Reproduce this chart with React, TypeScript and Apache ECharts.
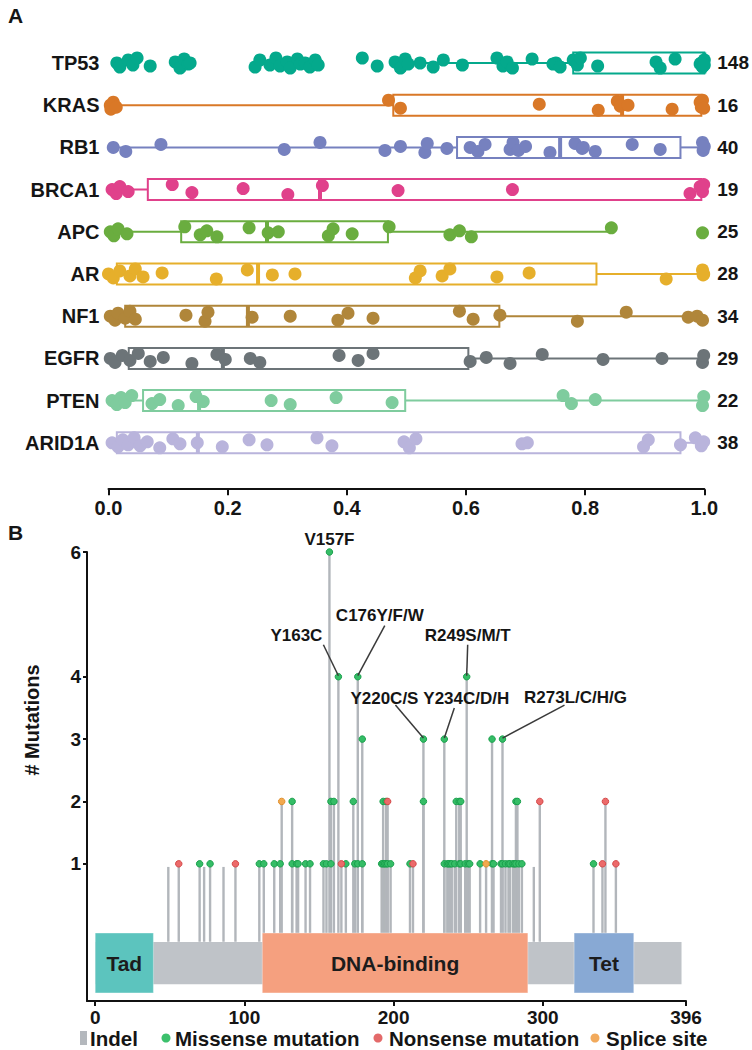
import React, { useEffect, useRef } from 'react';
import * as echarts from 'echarts';

const FONT = '"Liberation Sans", Arial, Helvetica, sans-serif';

// ---------- Panel A data ----------
const genes = ['TP53', 'KRAS', 'RB1', 'BRCA1', 'APC', 'AR', 'NF1', 'EGFR', 'PTEN', 'ARID1A'];
const geneCounts = [148, 16, 40, 19, 25, 28, 34, 29, 22, 38];
const geneColors = ['#04a98c', '#d97827', '#7681bf', '#e0418b', '#6aad3f', '#e6af2b', '#b0863a', '#6c7478', '#7fcc9e', '#b9b4dc'];
const xTicksA = [0, 0.2, 0.4, 0.6, 0.8, 1.0];

// [whisker low, q1, median, q3, whisker high]
const tp53Box = [0.49, 0.78, 1.0, 1.0, 1.0];
const krasBox = [0.0, 0.478, 0.862, 0.995, 0.995];
const rb1Box = [0.0, 0.585, 0.758, 0.96, 1.0];
const brca1Box = [0.0, 0.066, 0.355, 0.995, 0.995];
const apcBox = [0.0, 0.122, 0.266, 0.469, 0.844];
const arBox = [0.014, 0.014, 0.251, 0.819, 1.0];
const nf1Box = [0.0, 0.028, 0.234, 0.656, 1.0];
const egfrBox = [0.0, 0.034, 0.192, 0.604, 1.0];
const ptenBox = [0.0, 0.058, 0.152, 0.498, 1.0];
const arid1aBox = [0.0, 0.014, 0.15, 0.96, 1.0];
const boxStats = [tp53Box, krasBox, rb1Box, brca1Box, apcBox, arBox, nf1Box, egfrBox, ptenBox, arid1aBox];

const tp53Dots = [0.014, 0.019, 0.033, 0.041, 0.048, 0.070, 0.112, 0.120, 0.127, 0.134, 0.137, 0.246, 0.254, 0.271, 0.281, 0.288, 0.300, 0.305, 0.317, 0.322, 0.330, 0.338, 0.347, 0.352, 0.426, 0.451, 0.481, 0.490, 0.498, 0.503, 0.523, 0.545, 0.562, 0.594, 0.652, 0.662, 0.669, 0.678, 0.711, 0.746, 0.751, 0.758, 0.780, 0.787, 0.792, 0.821, 0.919, 0.926, 0.951, 0.993, 0.995, 0.997, 1.0, 1.0];
const krasDots = [0.003, 0.004, 0.008, 0.013, 0.470, 0.490, 0.723, 0.822, 0.854, 0.859, 0.872, 0.946, 0.993, 0.995, 0.997, 0.999];
const rb1Dots = [0.008, 0.029, 0.088, 0.295, 0.355, 0.464, 0.490, 0.531, 0.535, 0.568, 0.607, 0.620, 0.632, 0.674, 0.679, 0.688, 0.700, 0.741, 0.783, 0.795, 0.797, 0.817, 0.879, 0.926, 0.997, 0.998, 1.0];
const brca1Dots = [0.006, 0.013, 0.019, 0.033, 0.107, 0.140, 0.226, 0.301, 0.359, 0.486, 0.678, 0.976, 0.993, 0.997, 0.999];
const apcDots = [0.003, 0.009, 0.016, 0.031, 0.128, 0.154, 0.165, 0.182, 0.236, 0.268, 0.285, 0.369, 0.377, 0.409, 0.471, 0.573, 0.589, 0.609, 0.844, 0.997];
const arDots = [0.0, 0.008, 0.019, 0.036, 0.045, 0.058, 0.090, 0.181, 0.233, 0.275, 0.313, 0.515, 0.523, 0.560, 0.573, 0.652, 0.706, 0.936, 0.997, 0.998, 0.999];
const nf1Dots = [0.003, 0.011, 0.016, 0.028, 0.036, 0.045, 0.130, 0.162, 0.167, 0.241, 0.305, 0.385, 0.402, 0.444, 0.589, 0.612, 0.657, 0.787, 0.869, 0.973, 0.988, 0.997];
const egfrDots = [0.003, 0.011, 0.023, 0.036, 0.050, 0.070, 0.092, 0.140, 0.182, 0.196, 0.238, 0.254, 0.387, 0.419, 0.444, 0.607, 0.634, 0.674, 0.728, 0.830, 0.929, 0.997, 0.999];
const ptenDots = [0.006, 0.014, 0.021, 0.028, 0.039, 0.073, 0.086, 0.117, 0.147, 0.159, 0.273, 0.305, 0.382, 0.476, 0.763, 0.777, 0.817, 0.997, 0.999];
const arid1aDots = [0.006, 0.016, 0.024, 0.033, 0.043, 0.053, 0.065, 0.086, 0.108, 0.120, 0.149, 0.191, 0.236, 0.266, 0.350, 0.375, 0.496, 0.505, 0.516, 0.694, 0.703, 0.898, 0.906, 0.960, 0.985, 0.995, 0.999];
const geneDots = [tp53Dots, krasDots, rb1Dots, brca1Dots, apcDots, arDots, nf1Dots, egfrDots, ptenDots, arid1aDots];

// ---------- Panel B data ----------
const xTicksB = [0, 100, 200, 300, 396];
const yTicksB = [1, 2, 3, 4, 6];
const proteinLength = 393;
const domainNames = ['Tad', 'DNA-binding', 'Tet'];
const domainStart = [0, 112, 321];
const domainEnd = [39, 290, 361];
const domainColors = ['#5cc4be', '#f5a07f', '#88a9d4'];

const indelPositions = [49, 73, 86, 294];
const missense = [
  [70, 1], [77, 1], [110, 1], [113, 1], [120, 1], [124, 1], [132, 1], [132, 2], [135, 1], [136, 1],
  [141, 1], [144, 1], [153, 1], [155, 1], [157, 6], [158, 1], [158, 2], [160, 2], [163, 4], [168, 1],
  [173, 2], [174, 1], [176, 1], [176, 4], [179, 1], [179, 3], [192, 1], [193, 1], [193, 2], [194, 1],
  [195, 1], [195, 2], [196, 1], [198, 1], [211, 1], [220, 2], [220, 3], [234, 1], [234, 3], [236, 1],
  [237, 1], [238, 1], [239, 1], [241, 1], [242, 2], [244, 1], [244, 2], [245, 1], [245, 2], [248, 1],
  [249, 4], [250, 1], [251, 1], [258, 1], [266, 1], [266, 3], [267, 1], [272, 1], [273, 1], [273, 3],
  [275, 1], [277, 1], [278, 1], [280, 1], [281, 1], [282, 1], [282, 2], [283, 2], [284, 1], [286, 1],
  [334, 1],
];
const nonsense = [[56, 1], [94, 1], [165, 1], [196, 2], [213, 1], [298, 2], [340, 1], [342, 2], [349, 1]];
const splice = [[125, 2], [262, 1]];

const hotspotLabels = ['V157F', 'Y163C', 'C176Y/F/W', 'R249S/M/T', 'Y220C/S', 'Y234C/D/H', 'R273L/C/H/G'];
const hotspotPos = [157, 163, 176, 249, 220, 234, 273];
const hotspotCount = [6, 4, 4, 4, 3, 3, 3];

// layout of annotation labels (px offsets from the dot): text dx, dy, leader start dx, dy
const hotspotLayout = [
  [0, -13, null, null],
  [-42, -41, -15, -32],
  [22, -61, 27, -51],
  [1, -41, 1, -32],
  [-39, -41, -28, -34],
  [22, -41, 10, -31],
  [73, -42, 62, -34],
];

const jitterPx = [0, 4, -3, 2, -5, 3, -1, 5, -4, 1];
const ROW_PX = 42.2;
const INDEL_HEIGHT = 0.95;
const STEM_BASE = -0.25;

function buildOption(): any {
  const boldText = (size: number) => ({ fontFamily: FONT, fontWeight: 'bold' as const, fontSize: size, color: '#151515' });

  const boxSeries = {
    type: 'custom',
    xAxisIndex: 0,
    yAxisIndex: 0,
    z: 2,
    encode: { x: [1, 2, 3, 4, 5], y: 0 },
    data: boxStats.map((s, i) => [i, ...s]),
    renderItem: (params: any, api: any) => {
      const i = api.value(0);
      const low = api.value(1), q1 = api.value(2), med = api.value(3), q3 = api.value(4), high = api.value(5);
      const c = geneColors[i];
      const y = api.coord([0, i])[1];
      const X = (v: number) => api.coord([v, i])[0];
      const h = 10.5;
      const children: any[] = [];
      if (q1 > low) children.push({ type: 'line', shape: { x1: X(low), y1: y, x2: X(q1), y2: y }, style: { stroke: c, lineWidth: 2 } });
      if (high > q3) children.push({ type: 'line', shape: { x1: X(q3), y1: y, x2: X(high), y2: y }, style: { stroke: c, lineWidth: 2 } });
      children.push({ type: 'rect', shape: { x: X(q1), y: y - h, width: X(q3) - X(q1), height: 2 * h }, style: { stroke: c, fill: 'rgba(0,0,0,0)', lineWidth: 2 } });
      children.push({ type: 'line', shape: { x1: X(med), y1: y - h, x2: X(med), y2: y + h }, style: { stroke: c, lineWidth: 4 } });
      return { type: 'group', children };
    },
  };

  const dotSeries = geneDots.map((dots, i) => ({
    type: 'scatter',
    name: genes[i],
    xAxisIndex: 0,
    yAxisIndex: 0,
    z: 3,
    symbolSize: 13,
    itemStyle: { color: geneColors[i], opacity: 1 },
    data: dots.map((v, j) => [v, i + jitterPx[j % jitterPx.length] / ROW_PX]),
  }));

  const stems = [
    ...indelPositions.map((p) => [p, INDEL_HEIGHT]),
    ...missense, ...nonsense, ...splice,
  ];

  const stemSeries = {
    type: 'custom',
    xAxisIndex: 1,
    yAxisIndex: 2,
    z: 2,
    encode: { x: 0, y: 1 },
    data: stems,
    renderItem: (params: any, api: any) => {
      const p0 = api.coord([api.value(0), STEM_BASE]);
      const p1 = api.coord([api.value(0), api.value(1)]);
      return { type: 'line', shape: { x1: p0[0], y1: p0[1], x2: p1[0], y2: p1[1] }, style: { stroke: '#b2b6bb', lineWidth: 2.4 } };
    },
  };

  const barSeries = {
    type: 'custom',
    xAxisIndex: 1,
    yAxisIndex: 2,
    z: 3,
    encode: { x: [0, 1] },
    data: [[0, proteinLength]],
    renderItem: (params: any, api: any) => {
      const a = api.coord([api.value(0), -0.255]);
      const b = api.coord([api.value(1), -0.93]);
      return { type: 'rect', shape: { x: a[0], y: a[1], width: b[0] - a[0], height: b[1] - a[1] }, style: { fill: '#bfc3c8' } };
    },
  };

  const domainSeries = {
    type: 'custom',
    xAxisIndex: 1,
    yAxisIndex: 2,
    z: 4,
    encode: { x: [0, 1] },
    data: domainNames.map((n, k) => [domainStart[k], domainEnd[k], k]),
    renderItem: (params: any, api: any) => {
      const k = api.value(2);
      const a = api.coord([api.value(0), -0.11]);
      const b = api.coord([api.value(1), -1.07]);
      return {
        type: 'group',
        children: [
          { type: 'rect', shape: { x: a[0], y: a[1], width: b[0] - a[0], height: b[1] - a[1] }, style: { fill: domainColors[k], stroke: 'rgba(255,255,255,0.35)', lineWidth: 1 } },
          { type: 'text', x: (a[0] + b[0]) / 2, y: (a[1] + b[1]) / 2 + 1, style: { text: domainNames[k], fontFamily: FONT, fontWeight: 'bold', fontSize: 21, fill: '#1c1c1c', align: 'center', verticalAlign: 'middle' } },
        ],
      };
    },
  };

  const mkDots = (data: number[][], fill: string, border: string) => ({
    type: 'scatter',
    xAxisIndex: 1,
    yAxisIndex: 2,
    z: 5,
    symbolSize: 6.5,
    itemStyle: { color: fill, borderColor: border, borderWidth: 1, opacity: 1 },
    data,
  });

  const annotationSeries = {
    type: 'custom',
    xAxisIndex: 1,
    yAxisIndex: 2,
    z: 6,
    encode: { x: 0, y: 1 },
    data: hotspotPos.map((p, k) => [p, hotspotCount[k], k]),
    renderItem: (params: any, api: any) => {
      const k = api.value(2);
      const d = api.coord([api.value(0), api.value(1)]);
      const lay = hotspotLayout[k];
      const children: any[] = [
        { type: 'text', x: d[0] + (lay[0] as number), y: d[1] + (lay[1] as number), style: { text: hotspotLabels[k], fontFamily: FONT, fontWeight: 'bold', fontSize: 17, fill: '#151515', align: 'center', verticalAlign: 'middle' } },
      ];
      if (lay[2] !== null) {
        children.push({ type: 'line', shape: { x1: d[0] + (lay[2] as number), y1: d[1] + (lay[3] as number), x2: d[0], y2: d[1] - 1 }, style: { stroke: '#3a3a3a', lineWidth: 1.5 } });
      }
      return { type: 'group', children };
    },
  };

  const legendY = 1038;
  const legendText = (x: number, text: string) => ({
    type: 'text', x, y: legendY,
    style: { text, fontFamily: FONT, fontWeight: 'bold', fontSize: 20.5, fill: '#151515', align: 'left', verticalAlign: 'middle' },
  });

  const rowIdx = genes.map((g, i) => i);

  return {
    animation: false,
    backgroundColor: '#ffffff',
    grid: [
      { left: 108.5, right: 46.5, top: 41.9, height: 447.3 },
      { left: 87, width: 599, top: 552, height: 449 },
    ],
    xAxis: [
      {
        type: 'value', gridIndex: 0, min: 0, max: 1, interval: 0.2,
        axisLine: { show: true, onZero: false, lineStyle: { color: '#111', width: 2 } },
        axisTick: { show: true, length: 6, lineStyle: { color: '#111', width: 2 } },
        axisLabel: { ...boldText(20), margin: 9, customValues: xTicksA, formatter: (v: number) => v.toFixed(1) },
        splitLine: { show: false },
      },
      {
        type: 'value', gridIndex: 1, min: -5.5, max: 396,
        axisLine: { show: true, onZero: false, lineStyle: { color: '#111', width: 2 } },
        axisTick: { show: true, length: 5, customValues: xTicksB, lineStyle: { color: '#111', width: 2 } },
        axisLabel: { ...boldText(19), margin: 7, customValues: xTicksB, formatter: (v: number) => String(v) },
        splitLine: { show: false },
      },
    ],
    yAxis: [
      {
        type: 'value', gridIndex: 0, min: -0.5, max: 10.1, inverse: true,
        axisLine: { show: false, onZero: false }, axisTick: { show: false }, splitLine: { show: false },
        axisLabel: { ...boldText(20), margin: 9, customValues: rowIdx, formatter: (v: number) => genes[Math.round(v)] ?? '' },
      },
      {
        type: 'value', gridIndex: 0, min: -0.5, max: 10.1, inverse: true, position: 'right',
        axisLine: { show: false, onZero: false }, axisTick: { show: false }, splitLine: { show: false },
        axisLabel: { ...boldText(19), margin: 13, customValues: rowIdx, formatter: (v: number) => String(geneCounts[Math.round(v)] ?? '') },
      },
      {
        type: 'value', gridIndex: 1, min: -1.2, max: 6,
        axisLine: { show: true, onZero: false, lineStyle: { color: '#111', width: 2 } },
        axisTick: { show: true, length: 4, customValues: yTicksB, lineStyle: { color: '#111', width: 2 } },
        axisLabel: { ...boldText(19), margin: 6, customValues: yTicksB, formatter: (v: number) => String(v) },
        splitLine: { show: false },
      },
    ],
    graphic: [
      { type: 'text', x: 8, y: 15, style: { text: 'A', fontFamily: FONT, fontWeight: 'bold', fontSize: 21, fill: '#151515', verticalAlign: 'middle' } },
      { type: 'text', x: 8, y: 532, style: { text: 'B', fontFamily: FONT, fontWeight: 'bold', fontSize: 21, fill: '#151515', verticalAlign: 'middle' } },
      { type: 'text', x: 32, y: 720, rotation: Math.PI / 2, style: { text: '# Mutations', fontFamily: FONT, fontWeight: 'bold', fontSize: 20, fill: '#151515', align: 'center', verticalAlign: 'middle' } },
      { type: 'rect', shape: { x: 80, y: legendY - 7, width: 7, height: 14 }, style: { fill: '#b4b8bd' } },
      legendText(90, 'Indel'),
      { type: 'circle', shape: { cx: 166, cy: legendY, r: 4.5 }, style: { fill: '#3cc06c' } },
      legendText(175, 'Missense mutation'),
      { type: 'circle', shape: { cx: 378, cy: legendY, r: 4.5 }, style: { fill: '#e36a6a' } },
      legendText(389, 'Nonsense mutation'),
      { type: 'circle', shape: { cx: 595, cy: legendY, r: 4.5 }, style: { fill: '#f2aa5c' } },
      legendText(606, 'Splice site'),
    ],
    series: [
      boxSeries,
      ...dotSeries,
      stemSeries,
      barSeries,
      domainSeries,
      mkDots(missense, '#35bd66', '#19a04c'),
      mkDots(nonsense, '#ec6a6a', '#d44848'),
      mkDots(splice, '#f3a94e', '#e08f2c'),
      annotationSeries,
    ],
  };
}

export default function App() {
  const ref = useRef<HTMLDivElement>(null);
  useEffect(() => {
    if (!ref.current) return;
    const chart = echarts.init(ref.current, null, { renderer: 'svg' });
    chart.setOption(buildOption());
    return () => chart.dispose();
  }, []);
  return <div ref={ref} style={{ position: 'absolute', left: 0, top: 0, width: 752, height: 1050, background: '#fff' }} />;
}
